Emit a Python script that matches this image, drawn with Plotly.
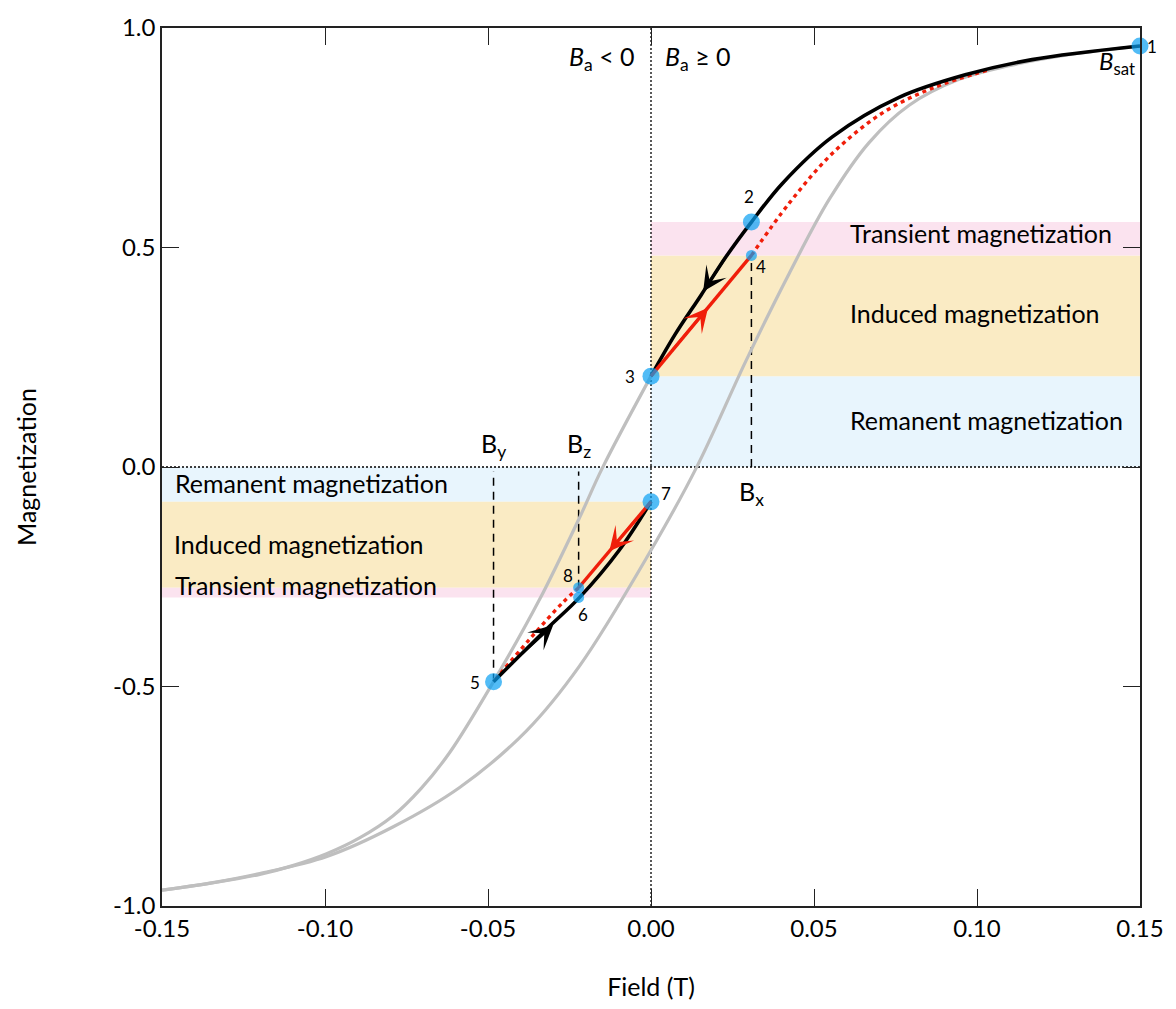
import plotly.graph_objects as go

# ---- data -------------------------------------------------------------
# Major hysteresis loop (grey). Descending branch below remanence (point 3 down to -saturation);
# above point 3 it coincides with the black path 1 -> 2 -> 3.
desc_field = [0.000, -0.0149, -0.0219, -0.0342, -0.0483, -0.0618, -0.0705, -0.0792, -0.0894,
              -0.0995, -0.1099, -0.1200, -0.1350, -0.1500]
desc_mag = [0.207, -0.002, -0.115, -0.302, -0.489, -0.651, -0.732, -0.795, -0.845,
            -0.881, -0.908, -0.928, -0.948, -0.964]
# ascending branch from -saturation
asc_field = [-0.1500, -0.1353, -0.1200, -0.0994, -0.0792, -0.0587, -0.0382, -0.0219, -0.0005,
             0.0139, 0.0292, 0.0424, 0.0547, 0.0669, 0.0792, 0.0945, 0.1098, 0.1282, 0.1500]
asc_mag = [-0.964, -0.948, -0.926, -0.887, -0.820, -0.730, -0.601, -0.453, -0.196,
           -0.002, 0.243, 0.441, 0.610, 0.739, 0.824, 0.883, 0.914, 0.939, 0.959]

# Positive-field excursion: 1 -> 2 -> 3 (black), 3 -> 4 (red), 4 -> saturation (red dotted)
path_down_field = [0.150, 0.1169, 0.0967, 0.0761, 0.0556, 0.0403, 0.0308, 0.0231, 0.0154, 0.0074, 0.000]
path_down_mag = [0.959, 0.928, 0.894, 0.842, 0.752, 0.646, 0.558, 0.480, 0.392, 0.302, 0.207]
recoil_up_field = [0.000, 0.0308]
recoil_up_mag = [0.207, 0.482]
return_up_field = [0.0308, 0.0424, 0.0556, 0.0709, 0.0863, 0.1037]
return_up_mag = [0.482, 0.601, 0.714, 0.806, 0.863, 0.905]

# Negative-field excursion: 5 -> 6 -> 7 (black), 7 -> 8 (red), 8 -> 5 (red dotted)
path_up_field = [-0.0483, -0.0320, -0.0219, -0.0097, 0.000]
path_up_mag = [-0.489, -0.369, -0.297, -0.189, -0.079]
recoil_down_field = [0.000, -0.0222]
recoil_down_mag = [-0.079, -0.275]
return_down_field = [-0.0222, -0.0271, -0.0372, -0.0483]
return_down_mag = [-0.275, -0.309, -0.392, -0.489]

# Numbered states
pt_labels = ["1", "2", "3", "4", "5", "6", "7", "8"]
pt_field = [0.150, 0.0308, 0.000, 0.0308, -0.0483, -0.0222, 0.000, -0.0222]
pt_mag = [0.959, 0.558, 0.207, 0.482, -0.489, -0.297, -0.079, -0.275]
pt_large = [True, True, True, False, True, False, True, False]

# Direction arrows: (tail point on path, arrow tip)
arrow_black = [((0.0231, 0.480), (0.0160, 0.400)), ((-0.0400, -0.428), (-0.0300, -0.360))]
arrow_red = [((0.0060, 0.261), (0.0175, 0.363)), ((-0.0040, -0.114), (-0.0128, -0.192))]

# Field markers
b_names = ["B<sub>x</sub>", "B<sub>y</sub>", "B<sub>z</sub>"]
b_field = [0.0308, -0.0483, -0.0222]
b_top = [0.482, -0.010, -0.010]
b_bottom = [0.000, -0.489, -0.275]
b_label_mag = [-0.059, 0.049, 0.049]

x_ticks = [-0.15, -0.10, -0.05, 0.00, 0.05, 0.10, 0.15]
y_ticks = [-1.0, -0.5, 0.0, 0.5, 1.0]

# ---- styling ----------------------------------------------------------
FONT = "Lato"
GREY = "#bfbfbf"
RED = "#f01e0a"
BLUE = "#08a0f2"
PINK = "#fbe3ef"
ORANGE = "#faebc4"
LIGHTBLUE = "#e8f5fd"
SMOOTH = 1.0

fig = go.Figure()

# grey loop
for fx, my in ((desc_field, desc_mag), (asc_field, asc_mag)):
    fig.add_trace(go.Scatter(x=fx, y=my, mode="lines",
                             line=dict(color=GREY, width=3.2, shape="spline", smoothing=SMOOTH),
                             hoverinfo="skip"))

# dotted red return paths
for fx, my in ((return_up_field, return_up_mag), (return_down_field, return_down_mag)):
    fig.add_trace(go.Scatter(x=fx, y=my, mode="lines",
                             line=dict(color=RED, width=3.4, dash="4px,4px", shape="spline", smoothing=SMOOTH),
                             hoverinfo="skip"))

# black field-change paths
for fx, my in ((path_down_field, path_down_mag), (path_up_field, path_up_mag)):
    fig.add_trace(go.Scatter(x=fx, y=my, mode="lines",
                             line=dict(color="black", width=3.6, shape="spline", smoothing=SMOOTH),
                             hoverinfo="skip"))

# red recoil paths
for fx, my in ((recoil_up_field, recoil_up_mag), (recoil_down_field, recoil_down_mag)):
    fig.add_trace(go.Scatter(x=fx, y=my, mode="lines", line=dict(color=RED, width=3.4), hoverinfo="skip"))

# numbered points
fig.add_trace(go.Scatter(x=pt_field, y=pt_mag, mode="markers",
                         marker=dict(color=BLUE, size=[17 if b else 11 for b in pt_large], line=dict(width=0)),
                         cliponaxis=False, hoverinfo="skip"))

# ---- shapes: bands and guide lines ------------------------------------
m2, m3, m4 = pt_mag[1], pt_mag[2], pt_mag[3]
m6, m7, m8 = pt_mag[5], pt_mag[6], pt_mag[7]
bands = [
    (0.0, 0.15, 0.0, m3, LIGHTBLUE), (0.0, 0.15, m3, m4, ORANGE), (0.0, 0.15, m4, m2, PINK),
    (-0.15, 0.0, m7, 0.0, LIGHTBLUE), (-0.15, 0.0, m8, m7, ORANGE), (-0.15, 0.0, m6, m8, PINK),
]
shapes = []
for x0, x1, y0, y1, c in bands:
    shapes.append(dict(type="rect", xref="x", yref="y", x0=x0, x1=x1, y0=y0, y1=y1,
                       fillcolor=c, line=dict(width=0), layer="below"))
# zero lines (dotted)
shapes.append(dict(type="line", xref="x", yref="y", x0=-0.15, x1=0.15, y0=0, y1=0,
                   line=dict(color="black", width=1.3, dash="2px,2px"), layer="below"))
shapes.append(dict(type="line", xref="x", yref="y", x0=0, x1=0, y0=-1, y1=1,
                   line=dict(color="black", width=1.3, dash="2px,2px"), layer="below"))
# field marker lines (dashed)
for bf, bt, bb in zip(b_field, b_top, b_bottom):
    shapes.append(dict(type="line", xref="x", yref="y", x0=bf, x1=bf, y0=bb, y1=bt,
                       line=dict(color="black", width=1.5, dash="8px,6px"), layer="below"))

# ---- annotations --------------------------------------------------------
ann = []

# direction arrowheads (shaft runs along the path and is hidden by it)
for arrows, col in ((arrow_black, "black"), (arrow_red, RED)):
    for (tail, tip) in arrows:
        ann.append(dict(x=tip[0], y=tip[1], ax=tail[0], ay=tail[1], xref="x", yref="y",
                        axref="x", ayref="y", text="", showarrow=True, arrowhead=3,
                        arrowsize=1.55, arrowwidth=2.6, arrowcolor=col))

band_font = dict(family=FONT, size=25, color="black")
right_x, left_x = 0.0605, -0.1465
band_ann = [
    dict(x=right_x, y=(m4 + m2) / 2 + 0.012, text="Transient magnetization", xanchor="left", yanchor="middle"),
    dict(x=right_x, y=(m3 + m4) / 2 + 0.006, text="Induced magnetization", xanchor="left", yanchor="middle"),
    dict(x=right_x, y=m3 / 2 + 0.004, text="Remanent magnetization", xanchor="left", yanchor="middle"),
    dict(x=left_x, y=m7 / 2 + 0.004, text="Remanent magnetization", xanchor="left", yanchor="middle"),
    dict(x=left_x - 0.0005, y=-0.176, text="Induced magnetization", xanchor="left", yanchor="middle"),
    dict(x=left_x, y=-0.268, text="Transient magnetization", xanchor="left", yanchor="middle"),
]
for a in band_ann:
    a.update(xref="x", yref="y", showarrow=False, font=band_font)
ann += band_ann

# point number labels (offsets in pixels)
num_offsets = [(12, 0), (-2, 26), (-21, 0), (10, -11), (-19, -1), (4, -17), (15, 8), (-11, 12)]
for lab, xf, ym, (dx, dy) in zip(pt_labels, pt_field, pt_mag, num_offsets):
    ann.append(dict(x=xf, y=ym, xref="x", yref="y", text=lab, showarrow=False,
                    xshift=dx, yshift=dy, font=dict(family=FONT, size=17, color="black")))

ann.append(dict(x=pt_field[0], y=pt_mag[0], xref="x", yref="y", text="<i>B</i><sub>sat</sub>",
                showarrow=False, xanchor="right", xshift=-3, yshift=-16,
                font=dict(family=FONT, size=24, color="black")))

for name, bf, ym in zip(b_names, b_field, b_label_mag):
    ann.append(dict(x=bf, y=ym, xref="x", yref="y", text=name, showarrow=False,
                    font=dict(family=FONT, size=25, color="black")))

ann.append(dict(x=0, y=1, xref="x", yref="y", text="<i>B</i><sub>a</sub> < 0", showarrow=False,
                xanchor="right", xshift=-14, yshift=-30, font=dict(family=FONT, size=25, color="black")))
ann.append(dict(x=0, y=1, xref="x", yref="y", text="<i>B</i><sub>a</sub> \u2265 0", showarrow=False,
                xanchor="left", xshift=12, yshift=-30, font=dict(family=FONT, size=25, color="black")))

axis_common = dict(showline=True, linecolor="#222", linewidth=1.5, mirror="ticks",
                   ticks="inside", ticklen=17, tickwidth=1.2, tickcolor="#222",
                   showgrid=False, zeroline=False,
                   tickfont=dict(family=FONT, size=24, color="black"))

fig.update_layout(
    width=1176, height=1009,
    margin=dict(l=162, r=35, t=22, b=99),
    paper_bgcolor="white", plot_bgcolor="white",
    showlegend=False,
    shapes=shapes,
    annotations=ann,
    xaxis=dict(range=[-0.15, 0.15], tickvals=x_ticks, ticktext=[f"{v:.2f}" for v in x_ticks],
               title=dict(text="Field (T)", font=dict(family=FONT, size=25, color="black"), standoff=38),
               **axis_common),
    yaxis=dict(range=[-1, 1], tickvals=y_ticks, ticktext=[f"{v:.1f}" for v in y_ticks],
               title=dict(text="Magnetization", font=dict(family=FONT, size=25, color="black"), standoff=69),
               **axis_common),
)

fig.write_html("out.html")
